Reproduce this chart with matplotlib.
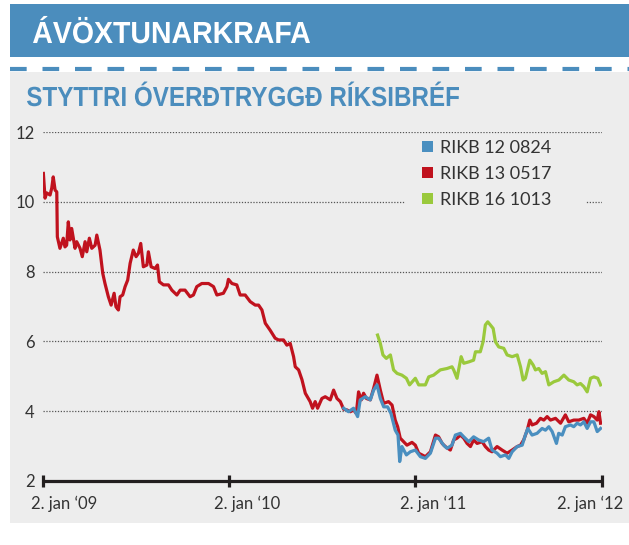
import matplotlib
matplotlib.use('Agg')
import matplotlib.pyplot as plt
from matplotlib.patches import Rectangle, Patch, PathPatch
from matplotlib.lines import Line2D
from matplotlib.transforms import ScaledTranslation, Affine2D
from matplotlib.textpath import TextPath
from matplotlib.font_manager import FontProperties

# time as decimal year (2009.0 = 2. jan '09), yield in %
red_t = [2009.002, 2009.011, 2009.020, 2009.038, 2009.047, 2009.055, 2009.065, 2009.074,
         2009.077, 2009.091, 2009.109, 2009.118, 2009.127, 2009.136, 2009.145, 2009.154,
         2009.163, 2009.172, 2009.181, 2009.199, 2009.211, 2009.226, 2009.235, 2009.249,
         2009.262, 2009.280, 2009.289, 2009.306, 2009.321, 2009.333, 2009.351, 2009.366,
         2009.382, 2009.392, 2009.405, 2009.414, 2009.428, 2009.441, 2009.455, 2009.468,
         2009.485, 2009.500, 2009.512, 2009.525, 2009.539, 2009.558, 2009.566, 2009.581,
         2009.602, 2009.615, 2009.625, 2009.647, 2009.674, 2009.692, 2009.719, 2009.737,
         2009.763, 2009.790, 2009.808, 2009.826, 2009.853, 2009.889, 2009.916, 2009.934,
         2009.969, 2009.988, 2009.996, 2010.015, 2010.041, 2010.059, 2010.086, 2010.113,
         2010.140, 2010.158, 2010.176, 2010.194, 2010.220, 2010.247, 2010.265, 2010.292,
         2010.310, 2010.328, 2010.346, 2010.355, 2010.373, 2010.391, 2010.409, 2010.435,
         2010.448, 2010.462, 2010.475, 2010.498, 2010.516, 2010.543, 2010.561, 2010.579,
         2010.597, 2010.615, 2010.633, 2010.651, 2010.668, 2010.683, 2010.695, 2010.710,
         2010.722, 2010.737, 2010.758, 2010.776, 2010.794, 2010.812, 2010.830, 2010.856,
         2010.875, 2010.892, 2010.905, 2010.919, 2010.937, 2010.955, 2010.982, 2011.000,
         2011.018, 2011.054, 2011.081, 2011.108, 2011.125, 2011.144, 2011.161, 2011.188,
         2011.206, 2011.224, 2011.242, 2011.260, 2011.278, 2011.296, 2011.313, 2011.332,
         2011.359, 2011.376, 2011.394, 2011.412, 2011.439, 2011.466, 2011.493, 2011.520,
         2011.547, 2011.565, 2011.582, 2011.601, 2011.615, 2011.627, 2011.651, 2011.672,
         2011.690, 2011.708, 2011.726, 2011.753, 2011.780, 2011.806, 2011.824, 2011.851,
         2011.878, 2011.905, 2011.923, 2011.941, 2011.959, 2011.977, 2011.986, 2011.995]
red_v = [10.82, 10.11, 10.26, 10.20, 10.40, 10.72, 10.34, 10.29,
         9.00, 8.67, 8.96, 8.71, 8.76, 9.43, 8.91, 9.24,
         8.96, 8.67, 8.86, 8.67, 8.43, 8.86, 8.57, 8.96,
         8.67, 8.76, 9.05, 8.62, 7.95, 7.66, 7.28, 7.04,
         7.38, 6.99, 6.90, 7.28, 7.33, 7.57, 7.76, 8.24,
         8.62, 8.43, 8.52, 8.81, 8.14, 8.19, 8.57, 8.14,
         8.09, 8.19, 7.71, 7.62, 7.62, 7.47, 7.33, 7.47,
         7.47, 7.28, 7.33, 7.57, 7.66, 7.66, 7.57, 7.33,
         7.38, 7.57, 7.78, 7.66, 7.62, 7.33, 7.33, 7.14,
         7.04, 7.04, 6.90, 6.52, 6.32, 6.09, 6.04, 6.04,
         5.89, 5.94, 5.56, 5.27, 5.18, 4.90, 4.51, 4.27,
         4.08, 4.27, 4.08, 4.36, 4.41, 4.32, 4.60, 4.36,
         4.27, 4.05, 4.03, 3.98, 4.03, 3.93, 4.55, 4.32,
         4.51, 4.36, 4.32, 4.65, 5.03, 4.60, 4.22, 4.27,
         4.17, 3.74, 3.55, 3.22, 3.12, 3.02, 3.10, 3.02,
         2.79, 2.69, 2.83, 3.31, 3.26, 3.07, 2.98, 2.88,
         3.17, 3.22, 3.31, 3.22, 3.07, 2.98, 3.17, 3.07,
         3.12, 2.98, 2.88, 2.83, 2.98, 2.88, 2.79, 2.88,
         2.98, 3.02, 3.17, 3.45, 3.74, 3.60, 3.65, 3.79,
         3.74, 3.84, 3.74, 3.79, 3.65, 3.89, 3.69, 3.74,
         3.74, 3.79, 3.65, 3.89, 3.84, 3.74, 3.98, 3.65]

blue_t = [2010.615, 2010.641, 2010.668, 2010.690, 2010.704, 2010.731, 2010.758, 2010.776,
          2010.794, 2010.812, 2010.830, 2010.851, 2010.869, 2010.892, 2010.907, 2010.916,
          2010.928, 2010.952, 2010.973, 2011.000, 2011.027, 2011.054, 2011.081, 2011.108,
          2011.125, 2011.152, 2011.170, 2011.197, 2011.215, 2011.242, 2011.260, 2011.287,
          2011.313, 2011.340, 2011.367, 2011.394, 2011.412, 2011.439, 2011.457, 2011.484,
          2011.502, 2011.520, 2011.547, 2011.574, 2011.591, 2011.604, 2011.627, 2011.654,
          2011.681, 2011.699, 2011.717, 2011.735, 2011.758, 2011.770, 2011.789, 2011.806,
          2011.833, 2011.851, 2011.869, 2011.887, 2011.905, 2011.923, 2011.941, 2011.959,
          2011.977, 2011.995]
blue_v = [4.08, 3.98, 4.08, 3.84, 4.32, 4.41, 4.32, 4.60,
          4.75, 4.36, 4.12, 4.12, 3.93, 3.45, 3.31, 2.55,
          2.98, 2.74, 2.83, 2.88, 2.69, 2.64, 2.79, 3.22,
          3.22, 3.02, 2.93, 3.02, 3.31, 3.36, 3.26, 3.12,
          3.26, 3.17, 3.12, 3.22, 2.88, 2.79, 2.69, 2.74,
          2.64, 2.83, 2.98, 3.02, 3.31, 3.50, 3.31, 3.36,
          3.50, 3.45, 3.55, 3.41, 3.07, 3.36, 3.31, 3.55,
          3.60, 3.55, 3.65, 3.60, 3.69, 3.50, 3.69, 3.69,
          3.41, 3.50]

green_t = [2010.797, 2010.812, 2010.826, 2010.844, 2010.866, 2010.883, 2010.902, 2010.928,
           2010.952, 2010.969, 2011.000, 2011.018, 2011.054, 2011.072, 2011.098, 2011.134,
           2011.170, 2011.197, 2011.206, 2011.224, 2011.246, 2011.260, 2011.287, 2011.313,
           2011.323, 2011.349, 2011.364, 2011.376, 2011.389, 2011.403, 2011.418, 2011.430,
           2011.448, 2011.475, 2011.493, 2011.520, 2011.547, 2011.565, 2011.579, 2011.591,
           2011.615, 2011.633, 2011.645, 2011.663, 2011.681, 2011.699, 2011.717, 2011.744,
           2011.771, 2011.798, 2011.824, 2011.851, 2011.869, 2011.887, 2011.905, 2011.923,
           2011.941, 2011.959, 2011.980, 2011.995]
green_v = [6.18, 5.94, 5.61, 5.51, 5.61, 5.18, 5.08, 5.03,
           4.94, 4.75, 4.94, 4.75, 4.75, 4.98, 5.03, 5.18,
           5.22, 5.27, 5.18, 4.94, 5.56, 5.37, 5.41, 5.46,
           5.70, 5.70, 5.99, 6.47, 6.56, 6.47, 6.37, 5.99,
           5.84, 5.80, 5.61, 5.56, 5.61, 5.27, 4.89, 4.94,
           5.46, 5.32, 5.18, 5.22, 5.08, 5.13, 4.75, 4.84,
           4.89, 5.03, 4.89, 4.84, 4.75, 4.79, 4.70, 4.55,
           4.94, 4.98, 4.94, 4.75]

series_names = ['RIKB 12 0824', 'RIKB 13 0517', 'RIKB 16 1013']
series_colors = ['#4a8fc0', '#c0121e', '#9ac93c']

x_ticks = [2009, 2010, 2011, 2012]
x_labels = ['2. jan \u201809', '2. jan \u201810', '2. jan \u201811', '2. jan \u201812']
y_ticks = [2, 4, 6, 8, 10, 12]

title = '\u00c1V\u00d6XTUNARKRAFA'
subtitle = 'STYTTRI \u00d3VER\u00d0TRYGG\u00d0 R\u00cdKSIBR\u00c9F'

W, H = 629, 545
HEAD_BLUE = '#4b8dbd'
PANEL = '#ededed'
TXT = '#333333'
lab_font = ['Lato', 'DejaVu Sans']

fig = plt.figure(figsize=(W / 100, H / 100), dpi=100)
fig.patch.set_facecolor('white')


def fx(px):
    return px / W


def fy(py):
    return 1 - py / H


def squeezed_text(s, x0, base, width, cap, color):
    # condensed headline: glyph outlines scaled to the wanted width / cap height (pixels)
    fp = FontProperties(family=['Liberation Sans', 'DejaVu Sans'], weight='bold')
    path = TextPath((0, 0), s, size=1, prop=fp)
    capH = TextPath((0, 0), 'H', size=1, prop=fp).get_extents().height
    ext = path.get_extents()
    tr = Affine2D().translate(-ext.x0, 0).scale(width / ext.width, cap / capH) \
        .translate(x0, H - base)
    fig.patches.append(PathPatch(path, transform=tr, facecolor=color, edgecolor='none', zorder=3))


# header band, dashed rule, grey panel
fig.patches.append(Rectangle((fx(10), fy(57)), fx(619), 53 / H, transform=fig.transFigure,
                             facecolor=HEAD_BLUE, edgecolor='none', zorder=-2))
fig.patches.append(Rectangle((fx(10), fy(523)), fx(619), 451 / H, transform=fig.transFigure,
                             facecolor=PANEL, edgecolor='none', zorder=-2))
fig.lines.append(Line2D([fx(10), fx(629)], [fy(69), fy(69)], transform=fig.transFigure,
                        color=HEAD_BLUE, lw=3, dashes=(4, 3.8), solid_capstyle='butt',
                        dash_capstyle='butt', zorder=-1))

squeezed_text(title, 33, 43, 277, 21, 'white')
squeezed_text(subtitle, 27, 106, 432, 19, HEAD_BLUE)

ax = fig.add_axes([fx(43), fy(480.7), (601.5 - 43) / W, (480.7 - 132.3) / H])
ax.patch.set_visible(False)

ax.plot(red_t, red_v, color=series_colors[1], lw=2.3, zorder=3)
ax.plot(blue_t, blue_v, color=series_colors[0], lw=2.3, zorder=4)
ax.plot(green_t, green_v, color=series_colors[2], lw=2.3, zorder=4)

ax.set_xlim(2009, 2012)
ax.set_ylim(2, 12)
ax.set_yticks(y_ticks)
ax.set_yticklabels([str(v) for v in y_ticks], fontsize=12, color=TXT, family=lab_font)
ax.set_xticks(x_ticks)
ax.set_xticklabels(x_labels, fontsize=12, color=TXT, family=lab_font)

for s in ['top', 'right', 'left']:
    ax.spines[s].set_visible(False)
ax.spines['bottom'].set_linewidth(2.3)
ax.spines['bottom'].set_color('#231f20')
ax.spines['bottom'].set_capstyle('butt')
ax.tick_params(axis='x', direction='inout', length=9, width=2.3, color='#231f20', pad=6)
ax.tick_params(axis='y', length=0, pad=6)

ax.set_axisbelow(True)
for yv in y_ticks[1:]:
    ax.axhline(yv, color='#555555', lw=0.9, ls=(0, (1, 1.3)), zorder=1)

# shift date labels as in the original layout
shifts = [21, 18, 18, -11]
for lab, dx in zip(ax.get_xticklabels(), shifts):
    lab.set_transform(lab.get_transform() + ScaledTranslation(dx / 100, 0, fig.dpi_scale_trans))

# legend box hides the gridline behind it
ax.add_patch(Rectangle(((405 - 43) / 558.5, (480.7 - 212) / 348.4), 181 / 558.5, 70 / 348.4,
                       transform=ax.transAxes, facecolor=PANEL, edgecolor='none', zorder=2))
handles = [Patch(facecolor=c, edgecolor='none') for c in series_colors]
leg = ax.legend(handles, series_names, loc='upper left', bbox_to_anchor=(fx(421.5), fy(140)),
                bbox_transform=fig.transFigure, frameon=False, borderpad=0, borderaxespad=0,
                handlelength=0.62, handleheight=0.62, handletextpad=0.4, labelspacing=0.55,
                prop={'family': lab_font, 'size': 13})
for t in leg.get_texts():
    t.set_color(TXT)

fig.savefig('out.png', dpi=100)
